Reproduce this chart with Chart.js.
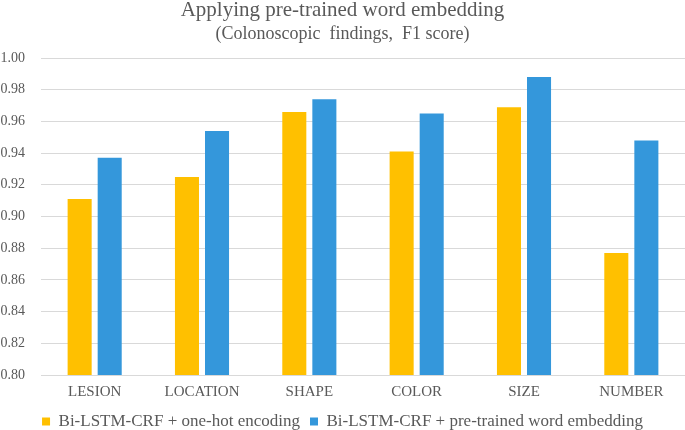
<!DOCTYPE html>
<html>
<head>
<meta charset="utf-8">
<script src="https://cdn.jsdelivr.net/npm/chart.js@4/dist/chart.umd.min.js"></script>
<style>
  html, body { margin: 0; padding: 0; background: #fff; }
  #wrap { width: 685px; height: 430px; }
</style>
</head>
<body>
<div id="wrap"><canvas id="chart" width="685" height="430"></canvas></div>
<script>
const categories = ["LESION", "LOCATION", "SHAPE", "COLOR", "SIZE", "NUMBER"];
const oneHot = [0.911, 0.925, 0.966, 0.941, 0.969, 0.877];
const pretrained = [0.937, 0.954, 0.974, 0.965, 0.988, 0.948];
const seriesNames = ["Bi-LSTM-CRF + one-hot encoding", "Bi-LSTM-CRF + pre-trained word embedding"];

const serif = "'Liberation Serif', 'Times New Roman', serif";

// pull the legend down a bit (Chart.js adds a fixed 10px under it)
const legendShift = {
  id: "legendShift",
  beforeInit(chart) {
    const origFit = chart.legend.fit;
    chart.legend.fit = function () {
      origFit.bind(chart.legend)();
      this.height -= 10;
    };
  }
};

const ctx = document.getElementById("chart").getContext("2d");
new Chart(ctx, {
  type: "bar",
  data: {
    labels: categories,
    datasets: [
      { label: seriesNames[0], data: oneHot, backgroundColor: "#FFC000" },
      { label: seriesNames[1], data: pretrained, backgroundColor: "#3497DB" }
    ]
  },
  plugins: [legendShift],
  options: {
    responsive: false,
    animation: false,
    layout: { padding: 0 },
    datasets: { bar: { categoryPercentage: 0.56, barPercentage: 0.8 } },
    plugins: {
      title: {
        display: true,
        text: "Applying pre-trained word embedding",
        color: "#595959",
        font: { family: serif, size: 21, weight: "normal", lineHeight: 1.0 },
        padding: { top: 0, bottom: 4 }
      },
      subtitle: {
        display: true,
        text: "(Colonoscopic  findings,  F1 score)",
        color: "#595959",
        font: { family: serif, size: 18, weight: "normal", lineHeight: 1.0 },
        padding: { top: 0, bottom: 15 }
      },
      legend: {
        position: "bottom",
        labels: {
          color: "#595959",
          font: { family: serif, size: 17 },
          boxWidth: 8,
          boxHeight: 8,
          padding: 10
        }
      },
      tooltip: { enabled: false }
    },
    scales: {
      x: {
        grid: { display: false, drawTicks: false },
        border: { color: "#d9d9d9" },
        ticks: { color: "#595959", font: { family: serif, size: 15 }, padding: 8 },
        afterFit(scale) { scale.height = 28; }
      },
      y: {
        min: 0.8,
        max: 1.0,
        grid: { color: "#d9d9d9", drawTicks: false },
        border: { display: false },
        ticks: {
          stepSize: 0.02,
          color: "#595959",
          font: { family: serif, size: 14 },
          padding: 16,
          callback: v => v.toFixed(2)
        },
        afterFit(scale) { scale.width = 41; }
      }
    }
  }
});
</script>
</body>
</html>
